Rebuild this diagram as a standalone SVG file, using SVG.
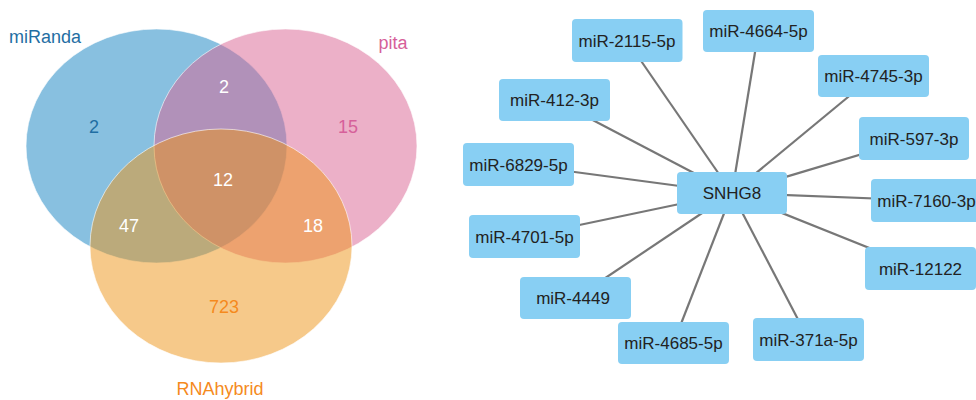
<svg xmlns="http://www.w3.org/2000/svg" width="976" height="400" viewBox="0 0 976 400">
  <style>
    .set { fill-opacity: 0.5; stroke: #ffffff; stroke-opacity: 0.6; stroke-width: 1; }
    .lbl { font-family: "Liberation Sans", Arial, sans-serif; font-size: 18px; text-anchor: middle; }
    .num { font-family: "Liberation Sans", Arial, sans-serif; font-size: 18px; text-anchor: middle; fill: #ffffff; }
    .node rect { fill: #88cff3; }
    .node text { font-family: "Liberation Sans", Arial, sans-serif; font-size: 17px; fill: #222222; text-anchor: middle; }
    .edges line { stroke: #777777; stroke-width: 2.2; }
  </style>

  <!-- Venn diagram of predicted targets -->
  <g id="venn">
    <ellipse id="set-miranda" class="set" cx="156.5" cy="146" rx="130.5" ry="117" fill="#1181c1"/>
    <ellipse id="set-pita" class="set" cx="285.5" cy="146" rx="131.5" ry="117" fill="#d96191"/>
    <ellipse id="set-rnahybrid" class="set" cx="221" cy="246" rx="131" ry="117" fill="#ed9315"/>

    <text class="lbl" x="45" y="43" fill="#1f6ea3">miRanda</text>
    <text class="lbl" x="393" y="49" fill="#d6609a">pita</text>
    <text class="lbl" x="220" y="395" fill="#f58a1d">RNAhybrid</text>

    <text class="num" x="94" y="133" style="fill:#1f6ea3">2</text>
    <text class="num" x="348" y="133" style="fill:#d6609a">15</text>
    <text class="num" x="224" y="93">2</text>
    <text class="num" x="223" y="186">12</text>
    <text class="num" x="129" y="232">47</text>
    <text class="num" x="313" y="232">18</text>
    <text class="num" x="224" y="313" style="fill:#f58a1d">723</text>
  </g>

  <!-- Network: SNHG8 and its miRNAs -->
  <g id="connectors" class="edges">
    <line x1="732" y1="193" x2="627" y2="40.5"/>
    <line x1="732" y1="193" x2="758.5" y2="31"/>
    <line x1="732" y1="193" x2="873.5" y2="76"/>
    <line x1="732" y1="193" x2="554.5" y2="100"/>
    <line x1="732" y1="193" x2="914" y2="138.5"/>
    <line x1="732" y1="193" x2="518.5" y2="164.5"/>
    <line x1="732" y1="193" x2="926.5" y2="200.5"/>
    <line x1="732" y1="193" x2="524.5" y2="236.5"/>
    <line x1="732" y1="193" x2="920.5" y2="268.5"/>
    <line x1="732" y1="193" x2="575.5" y2="298"/>
    <line x1="732" y1="193" x2="673.5" y2="343"/>
    <line x1="732" y1="193" x2="808.5" y2="339.5"/>
  </g>

  <g id="node-mir-2115-5p" class="node"><rect x="572" y="19" width="110.5" height="43" rx="4"/><text x="627" y="46.5">miR-2115-5p</text></g>
  <g id="node-mir-4664-5p" class="node"><rect x="703" y="10" width="111" height="42" rx="4"/><text x="758.5" y="37">miR-4664-5p</text></g>
  <g id="node-mir-4745-3p" class="node"><rect x="818" y="55" width="111" height="42" rx="4"/><text x="873.5" y="82">miR-4745-3p</text></g>
  <g id="node-mir-412-3p" class="node"><rect x="499" y="79" width="111" height="42" rx="4"/><text x="554.5" y="106">miR-412-3p</text></g>
  <g id="node-mir-597-3p" class="node"><rect x="859" y="117" width="110" height="43" rx="4"/><text x="914" y="144.5">miR-597-3p</text></g>
  <g id="node-mir-6829-5p" class="node"><rect x="463" y="143" width="111" height="43" rx="4"/><text x="518.5" y="170.5">miR-6829-5p</text></g>
  <g id="node-snhg8" class="node"><rect x="677" y="172" width="110" height="42" rx="4"/><text x="732" y="199">SNHG8</text></g>
  <g id="node-mir-7160-3p" class="node"><rect x="871" y="179" width="111" height="43" rx="4"/><text x="926.5" y="206.5">miR-7160-3p</text></g>
  <g id="node-mir-4701-5p" class="node"><rect x="469" y="215" width="111" height="43" rx="4"/><text x="524.5" y="242.5">miR-4701-5p</text></g>
  <g id="node-mir-12122" class="node"><rect x="865" y="247" width="111" height="43" rx="4"/><text x="920.5" y="274.5">miR-12122</text></g>
  <g id="node-mir-4449" class="node"><rect x="520" y="277" width="111" height="42" rx="4"/><text x="573" y="304">miR-4449</text></g>
  <g id="node-mir-4685-5p" class="node"><rect x="618" y="322" width="111" height="42" rx="4"/><text x="673.5" y="349">miR-4685-5p</text></g>
  <g id="node-mir-371a-5p" class="node"><rect x="753" y="318" width="111" height="43" rx="4"/><text x="808.5" y="345.5">miR-371a-5p</text></g>
</svg>
